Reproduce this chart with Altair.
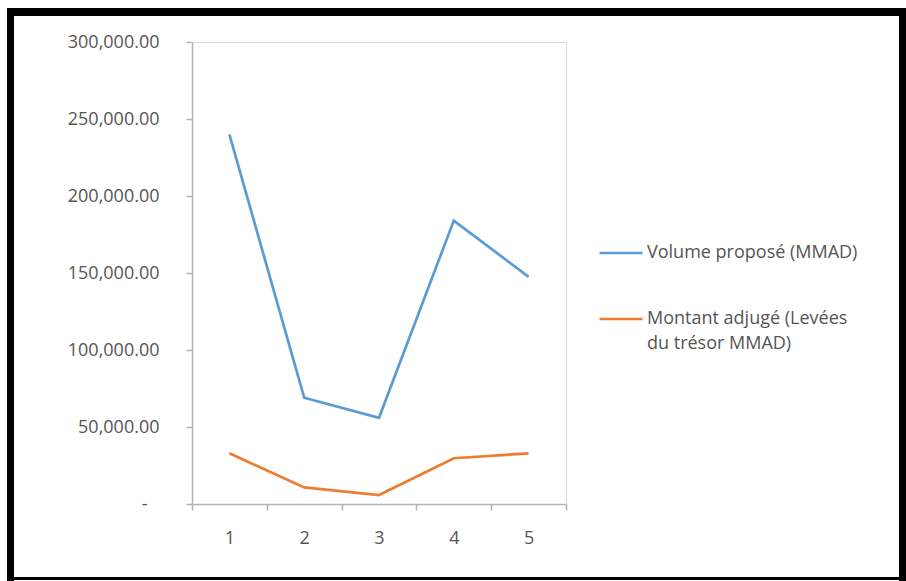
import altair as alt
import pandas as pd

categories = [1, 2, 3, 4, 5]
volume_propose = [240000, 69000, 56000, 184000, 147500]
montant_adjuge = [32900, 10800, 5800, 29700, 32900]
series_names = ["Volume proposé (MMAD)", "Montant adjugé (Levées du trésor MMAD)"]
series_colors = ["#5B9BD5", "#ED7D31"]
y_ticks = [0, 50000, 100000, 150000, 200000, 250000, 300000]

rows = []
for c, v in zip(categories, volume_propose):
    rows.append({"cat": str(c), "value": v, "series": series_names[0]})
for c, v in zip(categories, montant_adjuge):
    rows.append({"cat": str(c), "value": v, "series": series_names[1]})
df = pd.DataFrame(rows)

FONT = "Open Sans"
GRAY = "#555555"
AXIS_GRAY = "#b3b3b3"
FS = 18

lines = alt.Chart(df).mark_line(strokeWidth=2.7).encode(
    x=alt.X("cat:N", sort=[str(c) for c in categories],
            scale=alt.Scale(type="band", paddingInner=0, paddingOuter=0),
            axis=alt.Axis(title=None, labelAngle=0, tickBand="extent", tickSize=6,
                          labelPadding=19, domainColor=AXIS_GRAY, tickColor=AXIS_GRAY,
                          domainWidth=1.5, tickWidth=1.5,
                          labelFont=FONT, labelFontSize=FS, labelColor=GRAY, grid=False)),
    y=alt.Y("value:Q", scale=alt.Scale(domain=[0, 300000], nice=False),
            axis=alt.Axis(title=None, values=y_ticks, tickSize=6,
                          labelPadding={"condition": {"test": "datum.value === 0", "value": 39}, "value": 27},
                          labelExpr="datum.value == 0 ? '-' : format(datum.value, ',.2f')",
                          domainColor=AXIS_GRAY, tickColor=AXIS_GRAY, domainWidth=1.5, tickWidth=1.5,
                          labelFont=FONT, labelFontSize=FS, labelColor=GRAY, grid=False)),
    color=alt.Color("series:N", sort=series_names,
                    scale=alt.Scale(domain=series_names, range=series_colors),
                    legend=alt.Legend(title=None, orient="none", legendX=406, legendY=188,
                                      symbolType="stroke", symbolSize=1849, symbolStrokeWidth=2.7,
                                      labelOffset=3, labelLimit=400, rowPadding=34,
                                      labelFont=FONT, labelFontSize=FS, labelColor=GRAY,
                                      labelExpr="datum.label == 'Montant adjugé (Levées du trésor MMAD)' ? ['Montant adjugé (Levées', 'du trésor MMAD)'] : datum.label")),
)

def band(x1, x2, y1, y2):
    return alt.Chart(alt.Data(values=[{"a": 1}])).mark_rect(color="black").encode(
        x=alt.value(x1), x2=alt.value(x2), y=alt.value(y1), y2=alt.value(y2))

OX, OY = 192, 42
frame = (band(7 - OX, 906 - OX, 8 - OY, 16 - OY)
         + band(7 - OX, 14 - OX, 8 - OY, 581 - OY)
         + band(899 - OX, 906 - OX, 8 - OY, 581 - OY)
         + band(7 - OX, 906 - OX, 577 - OY, 580 - OY))

chart = alt.layer(lines, frame).properties(
    width=374, height=462,
    padding={"left": OX, "top": OY, "right": 906 - OX - 374, "bottom": 581 - OY - 462},
    autosize=alt.AutoSizeParams(type="none"),
    background="white",
).configure_view(stroke=None).configure(
    style={"guide-label": {"lineHeight": 25}}
)

chart.save("out.html", embed_options={"renderer": "svg", "actions": False})
